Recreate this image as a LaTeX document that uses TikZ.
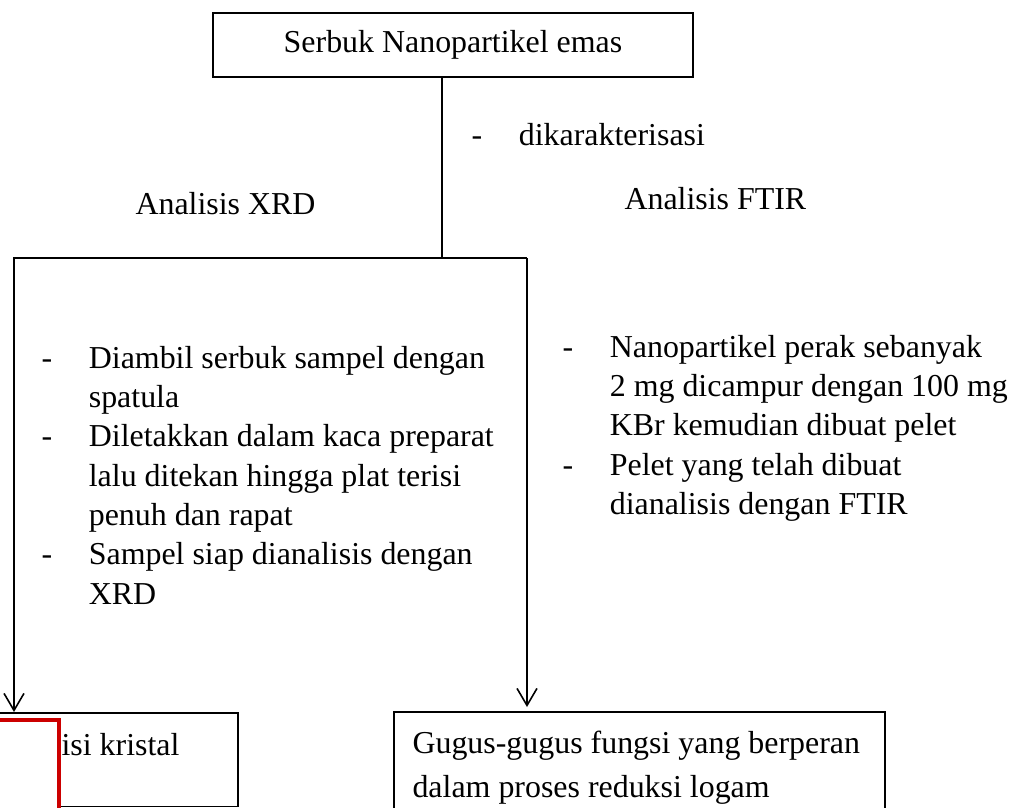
\documentclass[tikz,border=0pt]{standalone}
\usepackage{fontspec}
\setmainfont{Liberation Serif}
\usetikzlibrary{arrows.meta}
\definecolor{coverred}{RGB}{204,0,0}
\begin{document}
\begin{tikzpicture}[x=0.376pt, y=-0.376pt,
    box/.style={draw, line width=0.6pt, inner sep=0pt},
    txt/.style={inner sep=0pt, anchor=base west, font=\fontsize{12}{14.8}\selectfont},
    flow/.style={line width=0.6pt, -{Straight Barb[length=6.4pt, width=7.5pt]}}]
\useasboundingbox (0,0) rectangle (1018,808);

% top box
\node[box, minimum width=180.5pt, minimum height=24.1pt, font=\fontsize{12}{14.8}\selectfont] (serbuk) at (453,45) {Serbuk Nanopartikel emas};
\coordinate (split) at (442,258);
\coordinate (xrdcorner) at (14,258);
\coordinate (ftircorner) at (527,258);

% labels
\node[txt] (karakter) at (471,145) {\begin{tabular}[t]{@{}p{17.8pt}@{}l@{}}- & dikarakterisasi\end{tabular}};
\node[txt] (xrdlabel) at (135,214) {Analisis XRD};
\node[txt] (ftirlabel) at (624,209) {Analisis FTIR};

% steps
\node[txt] (xrdsteps) at (41,368) {\begin{tabular}[t]{@{}p{17.8pt}@{}l@{}}
- & Diambil serbuk sampel dengan\\
  & spatula\\
- & Diletakkan dalam kaca preparat\\
  & lalu ditekan hingga plat terisi\\
  & penuh dan rapat\\
- & Sampel siap dianalisis dengan\\
  & XRD
\end{tabular}};
\node[txt] (ftirsteps) at (562,357) {\begin{tabular}[t]{@{}p{17.8pt}@{}l@{}}
- & Nanopartikel perak sebanyak\\
  & 2 mg dicampur dengan 100 mg\\
  & KBr kemudian dibuat pelet\\
- & Pelet yang telah dibuat\\
  & dianalisis dengan FTIR
\end{tabular}};

% result boxes
\node[box, anchor=north west, minimum width=92.9pt, minimum height=35.3pt] (kristal) at (-10,712) {};
\node[txt] (kristaltxt) at (61,755) {isi kristal};
\node[box, anchor=north west, minimum width=184.6pt, minimum height=44.7pt] (gugus) at (393,711) {};
\node[txt, font=\fontsize{12}{16.9}\selectfont] (gugustxt) at (412,753) {\begin{tabular}[t]{@{}l@{}}
Gugus-gugus fungsi yang berperan\\
dalam proses reduksi logam
\end{tabular}};

% red cover
\draw[draw=coverred, line width=1.4pt, fill=white] (-20,720) rectangle (59,840);

% connectors
\draw[line width=0.6pt] (serbuk.south -| split) -- (split);
\draw[flow] (ftircorner) -- (xrdcorner) -- (xrdcorner |- kristal.north);
\draw[flow, shorten >=1.5pt] (ftircorner) -- (ftircorner |- gugus.north);
\end{tikzpicture}
\end{document}
